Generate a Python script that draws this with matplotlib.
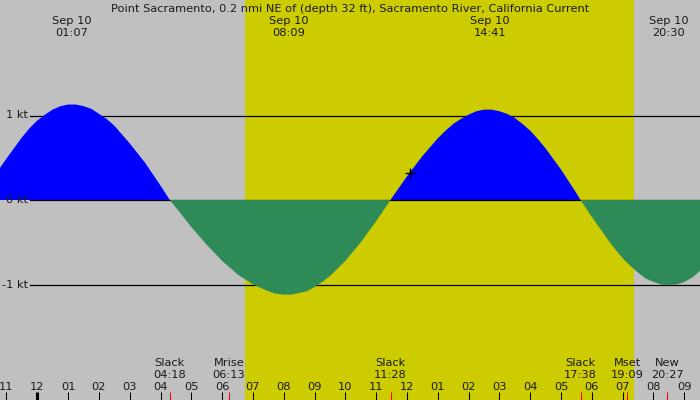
import matplotlib
matplotlib.use("Agg")
import matplotlib.pyplot as plt
import matplotlib.transforms as mtransforms

# current speed (kt), hours from midnight Sep 10
hours = [-1.21, -1.0, -0.5, -0.25, 0.0, 0.25, 0.5, 0.75, 1.0, 1.117, 1.25, 1.5, 1.75,
         2.0, 2.25, 2.5, 3.0, 3.5, 4.0, 4.3,
         4.5, 5.0, 5.5, 6.0, 6.5, 6.75, 7.0, 7.25, 7.5, 7.75, 8.0, 8.15, 8.25, 8.5, 8.75,
         9.0, 9.25, 9.5, 9.75, 10.0, 10.5, 11.0,
         11.467, 11.5, 12.0, 12.5, 13.0, 13.25, 13.5, 13.75, 14.0, 14.25, 14.5, 14.683,
         14.75, 15.0, 15.25, 15.5, 15.75, 16.0, 16.25, 16.5, 17.0, 17.5, 17.633,
         18.0, 18.5, 18.75, 19.0, 19.25, 19.5, 19.75, 20.0, 20.25, 20.5, 20.75, 21.0,
         21.25, 21.51]
speed = [0.38, 0.49, 0.74, 0.85, 0.94, 1.01, 1.07, 1.11, 1.13, 1.13, 1.13, 1.11, 1.08,
         1.02, 0.96, 0.88, 0.67, 0.44, 0.17, 0.0,
         -0.09, -0.32, -0.53, -0.72, -0.88, -0.94, -1.00, -1.04, -1.08, -1.11, -1.12, -1.12,
         -1.12, -1.10, -1.08, -1.03, -0.97, -0.90, -0.81, -0.72, -0.50, -0.25,
         0.0, 0.02, 0.28, 0.52, 0.73, 0.82, 0.90, 0.96, 1.01, 1.05, 1.07, 1.07,
         1.07, 1.05, 1.02, 0.97, 0.90, 0.82, 0.72, 0.61, 0.36, 0.08, 0.0,
         -0.20, -0.46, -0.58, -0.69, -0.78, -0.86, -0.93, -0.97, -1.00, -1.01, -1.00, -0.97,
         -0.92, -0.84]

# max / min current times (top labels)
peak_times = ["01:07", "08:09", "14:41", "20:30"]
peak_date = "Sep 10"

# slack / moon events (bottom labels)
event_names = ["Slack", "Mrise", "Slack", "Slack", "Mset", "New"]
event_times = ["04:18", "06:13", "11:28", "17:38", "19:09", "20:27"]

hour_ticks = list(range(-1, 22))
hour_labels = ["11", "12", "01", "02", "03", "04", "05", "06", "07", "08", "09", "10",
               "11", "12", "01", "02", "03", "04", "05", "06", "07", "08", "09"]

sunrise = 6.74
sunset = 19.36
marker_pt = (12.1, 0.32)

kt_levels = [1, 0, -1]
kt_labels = ["1 kt", "0 kt", "-1 kt"]

title = "Point Sacramento, 0.2 nmi NE of (depth 32 ft), Sacramento River, California Current"


def to_hours(s):
    hh, mm = s.split(":")
    return int(hh) + int(mm) / 60.0


def ypix(p):
    # pixel row (from top) -> axes fraction
    return 1 - p / 400.0


gray = "#c0c0c0"
yellow = "#cccc00"
txt = "#1a1a1a"
fs = 8.2

fig = plt.figure(figsize=(7, 4), dpi=100)
fig.patch.set_facecolor(gray)
ax = fig.add_axes([0, 0, 1, 1])
ax.set_facecolor(gray)
ax.set_xlim(-1.21, 21.51)
ax.set_ylim(-200 / 84.5, 200 / 84.5)
ax.axis("off")
trans = mtransforms.blended_transform_factory(ax.transData, ax.transAxes)
ytrans = mtransforms.blended_transform_factory(ax.transAxes, ax.transData)

# daylight
ax.axvspan(sunrise, sunset, color=yellow, zorder=0, lw=0)

# reference lines
for lv, lab in zip(kt_levels, kt_labels):
    ax.axhline(lv, xmin=30 / 700, xmax=1, color="black", lw=0.9,
               zorder=2 if lv == 0 else 0.5)
    ax.text(28 / 700, lv, lab, transform=ytrans, ha="right", va="center",
            fontsize=fs, color=txt, zorder=6)

# flood / ebb fills
ax.fill_between(hours, speed, 0, where=[v >= 0 for v in speed], interpolate=True,
                color="#0000ff", lw=0, zorder=1)
ax.fill_between(hours, speed, 0, where=[v <= 0 for v in speed], interpolate=True,
                color="#2e8b57", lw=0, zorder=3)

ax.plot([marker_pt[0]], [marker_pt[1]], marker="+", color="black", ms=7, mew=1, zorder=4)

# title and peak labels
ax.text(0.5, ypix(11.5), title, transform=ax.transAxes, ha="center", va="baseline",
        fontsize=fs, color=txt)
for t in peak_times:
    x = to_hours(t)
    ax.text(x, ypix(23.5), peak_date, transform=trans, ha="center", va="baseline",
            fontsize=fs, color=txt)
    ax.text(x, ypix(35.5), t, transform=trans, ha="center", va="baseline",
            fontsize=fs, color=txt)

# bottom event labels and red ticks
for name, t in zip(event_names, event_times):
    x = to_hours(t)
    ax.text(x, ypix(366), name, transform=trans, ha="center", va="baseline",
            fontsize=fs, color=txt)
    ax.text(x, ypix(378), t, transform=trans, ha="center", va="baseline",
            fontsize=fs, color=txt)
    ax.vlines(x, 0, ypix(391.5), transform=trans, color="red", lw=0.75, zorder=5)

# hour ticks
for h, lab in zip(hour_ticks, hour_labels):
    ax.text(h, ypix(390), lab, transform=trans, ha="center", va="baseline",
            fontsize=fs, color=txt)
    ax.vlines(h, 0, ypix(391.5), transform=trans, color="black",
              lw=2.2 if h == 0 else 0.75, zorder=5)

fig.savefig("out.png", dpi=100, facecolor=gray)
